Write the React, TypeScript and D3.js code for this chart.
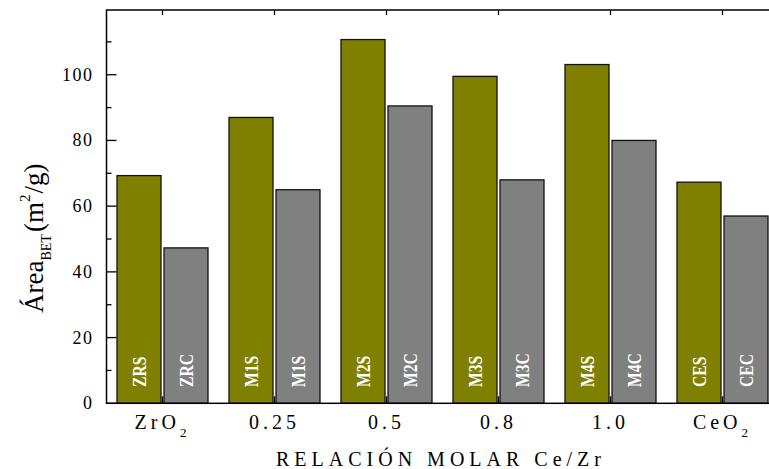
import { useEffect, useRef } from "react";
import * as d3 from "d3";

const groups = ["ZrO2", "0.25", "0.5", "0.8", "1.0", "CeO2"];
const sLabels = ["ZRS", "M1S", "M2S", "M3S", "M4S", "CES"];
const cLabels = ["ZRC", "M1S", "M2C", "M3C", "M4C", "CEC"];
const sValues = [69.3, 87, 110.7, 99.5, 103.1, 67.3];
const cValues = [47.3, 65, 90.5, 68, 80, 57];
const yTicks = [0, 20, 40, 60, 80, 100];

const W = 769;
const H = 469;
const M = { left: 106.5, right: 778.5, top: 10, bottom: 403.3 };
const FONT = "Liberation Serif";

const App = () => {
  const ref = useRef<SVGSVGElement>(null);

  useEffect(() => {
    const svg = d3.select(ref.current);
    svg.selectAll("*").remove();

    const x = d3.scaleBand().domain(groups).range([M.left, M.right]);
    const y = d3.scaleLinear().domain([0, 119.7]).range([M.bottom, M.top]);

    const g = svg.append("g").style("font-family", FONT);

    // bars
    const bw = 44;
    groups.forEach((grp, i) => {
      const c = x(grp)! + x.bandwidth() / 2;
      const pairs = [
        { x0: c - 1.5 - bw, v: sValues[i], fill: "#808000", label: sLabels[i] },
        { x0: c + 1.5, v: cValues[i], fill: "#808080", label: cLabels[i] },
      ];
      pairs.forEach((p) => {
        g.append("rect")
          .attr("x", p.x0)
          .attr("y", y(p.v))
          .attr("width", bw)
          .attr("height", y(0) - y(p.v))
          .attr("fill", p.fill)
          .attr("stroke", "#111")
          .attr("stroke-width", 1.3);
        g.append("text")
          .attr("transform", `translate(${p.x0 + bw / 2 + 6.5},387) rotate(-90) scale(0.92,1.12)`)
          .attr("font-weight", "bold")
          .attr("font-size", 17)
          .attr("fill", "#fff")
          .text(p.label);
      });
    });

    // frame
    g.append("rect")
      .attr("x", M.left)
      .attr("y", M.top)
      .attr("width", M.right - M.left)
      .attr("height", M.bottom - M.top)
      .attr("fill", "none")
      .attr("stroke", "#000")
      .attr("stroke-width", 1.5);

    // left axis ticks (inside)
    const minor = d3.range(10, 120, 20);
    yTicks.forEach((t) => {
      g.append("line")
        .attr("x1", M.left).attr("x2", M.left + 10)
        .attr("y1", y(t)).attr("y2", y(t))
        .attr("stroke", "#000").attr("stroke-width", 1.3);
      g.append("text")
        .attr("x", M.left - 13)
        .attr("y", y(t) + 6)
        .attr("text-anchor", "end")
        .attr("font-size", 18)
        .attr("letter-spacing", 1.5)
        .text(t);
    });
    minor.forEach((t) => {
      g.append("line")
        .attr("x1", M.left).attr("x2", M.left + 5)
        .attr("y1", y(t)).attr("y2", y(t))
        .attr("stroke", "#000").attr("stroke-width", 1.3);
    });

    // top and bottom ticks at group centres
    groups.forEach((grp) => {
      const c = x(grp)! + x.bandwidth() / 2;
      g.append("line")
        .attr("x1", c).attr("x2", c)
        .attr("y1", M.top).attr("y2", M.top + 5)
        .attr("stroke", "#000").attr("stroke-width", 1.3);
      g.append("line")
        .attr("x1", c).attr("x2", c)
        .attr("y1", M.bottom).attr("y2", M.bottom - 7)
        .attr("stroke", "#000").attr("stroke-width", 1.3);

      const t = g.append("text")
        .attr("x", c)
        .attr("y", 429)
        .attr("text-anchor", "middle")
        .attr("font-size", 20)
        .attr("letter-spacing", 4);
      if (grp.endsWith("2")) {
        t.append("tspan").text(grp.slice(0, -1));
        t.append("tspan").attr("dy", 8).attr("font-size", 13).text("2");
      } else {
        t.text(grp);
      }
    });

    // x title
    g.append("text")
      .attr("x", 441)
      .attr("y", 466)
      .attr("text-anchor", "middle")
      .attr("font-size", 20)
      .attr("letter-spacing", 5)
      .text("RELACIÓN MOLAR Ce/Zr");

    // y title
    const yt = g.append("text")
      .attr("transform", "translate(43,313) rotate(-90)")
      .attr("font-size", 27);
    yt.append("tspan").text("Área");
    yt.append("tspan").attr("dy", 8).attr("font-size", 14).text("BET");
    yt.append("tspan").attr("dy", -8).attr("dx", 2).text("(m");
    yt.append("tspan").attr("dy", -13).attr("font-size", 15).text("2");
    yt.append("tspan").attr("dy", 13).attr("dx", 1).text("/g)");
  }, []);

  return (
    <svg
      ref={ref}
      width={W}
      height={H}
      style={{ position: "absolute", left: 0, top: 0, background: "#fff" }}
    />
  );
};

export default App;
